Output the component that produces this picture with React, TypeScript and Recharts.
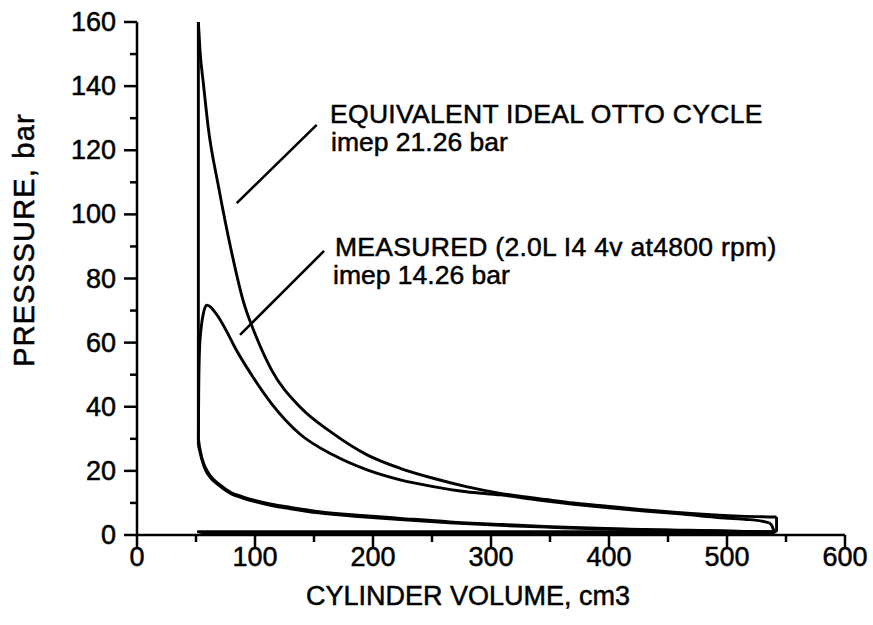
import { LineChart, Line, XAxis, YAxis, ReferenceLine } from 'recharts'

// ideal Otto cycle (cm3 / bar)
const ottoCompVolume = [52, 53, 55, 58, 62, 69, 80, 89, 100, 114, 130, 154, 190, 223, 265, 308, 350, 390, 418, 450, 500, 542]
const ottoCompPressure = [28, 26.5, 23.5, 20.3, 18.0, 15.6, 12.8, 11.6, 10.4, 9.2, 8.2, 6.9, 5.7, 4.8, 3.8, 3.0, 2.4, 1.9, 1.7, 1.5, 1.2, 1.0]
const ottoExpVolume = [52, 53.4, 56.2, 60.4, 68.9, 80.3, 90, 101.4, 114, 138, 166, 195, 223, 251, 279, 308, 350, 370, 398, 426, 455, 483, 511, 542]
const ottoExpPressure = [160, 151, 141, 127, 109, 88, 73, 61.5, 51.5, 40, 31.7, 25, 20.8, 17.7, 15.1, 13.0, 10.9, 10.0, 9.0, 8.0, 7.1, 6.4, 5.9, 5.6]
const ottoTdcVolume = [52, 52]
const ottoTdcPressure = [28, 160]
const ottoBdcVolume = [542, 542]
const ottoBdcPressure = [5.6, 1.0]

// measured loop, 2.0L I4 4v at 4800 rpm
const measCompVolume = [52, 53, 55, 58, 62, 69, 80, 89, 100, 114, 130, 154, 190, 223, 265, 308, 350, 390, 418, 450, 500, 540]
const measCompPressure = [30, 27.5, 24.0, 21.0, 18.5, 16.0, 13.2, 12.0, 10.8, 9.6, 8.6, 7.3, 6.1, 5.2, 4.1, 3.3, 2.6, 2.1, 1.8, 1.6, 1.3, 0.7]
const measExpVolume = [52, 52.3, 53, 54.5, 56.5, 59, 62, 65, 69, 76, 83, 97, 114, 138, 166, 195, 223, 251, 279, 308, 340, 370, 400, 430, 460, 490, 515, 530, 536]
const measExpPressure = [30, 45, 58, 65, 69.5, 71.7, 71.2, 70, 68, 63.5, 58.5, 50, 41, 31.5, 25, 20.3, 17.2, 15.1, 13.5, 12.5, 10.9, 9.6, 8.5, 7.5, 6.6, 5.5, 4.9, 4.3, 3.8]
const measGasVolume = [536, 538, 540, 450, 300, 150, 60, 52, 60, 150, 300, 450, 540]
const measGasPressure = [3.8, 3.0, 1.0, 1.0, 1.0, 1.0, 1.0, 1.0, 0.45, 0.45, 0.45, 0.55, 0.7]

const volumeTicks = [0, 50, 100, 150, 200, 250, 300, 350, 400, 450, 500, 550, 600]
const pressureTicks = [0, 10, 20, 30, 40, 50, 60, 70, 80, 90, 100, 110, 120, 130, 140, 150, 160]

// leader lines from the labels to the curves
const ottoPointer = [{ v: 84.5, p: 103.5 }, { v: 152.3, p: 127.9 }]
const measuredPointer = [{ v: 87.3, p: 62.4 }, { v: 158.5, p: 88.6 }]

const pts = (vs: number[], ps: number[]) => vs.map((v, i) => ({ v, p: ps[i] }))

const segments = [
  { data: pts(ottoCompVolume, ottoCompPressure), curve: 'monotone' },
  { data: pts(ottoTdcVolume, ottoTdcPressure), curve: 'linear' },
  { data: pts(ottoExpVolume, ottoExpPressure), curve: 'monotone' },
  { data: pts(ottoBdcVolume, ottoBdcPressure), curve: 'linear' },
  { data: pts(measCompVolume, measCompPressure), curve: 'monotone' },
  { data: pts(measExpVolume, measExpPressure), curve: 'monotone' },
  { data: pts(measGasVolume, measGasPressure), curve: 'linear' },
]

const font = '"Liberation Sans", Arial, Helvetica, sans-serif'
const ink = '#000'

function XTick(props: any) {
  const { x, y, payload } = props
  const major = payload.value % 100 === 0
  return (
    <g>
      <line x1={x} x2={x} y1={y} y2={y + (major ? 12 : 7)} stroke={ink} strokeWidth={2.5} />
      {major && (
        <text x={x} y={y + 31} textAnchor="middle" fontFamily={font} fontSize={27} fill={ink} stroke={ink} strokeWidth={0.5}>
          {payload.value}
        </text>
      )}
    </g>
  )
}

function YTick(props: any) {
  const { x, y, payload } = props
  const major = payload.value % 20 === 0
  return (
    <g>
      <line x1={x - (major ? 13 : 7)} x2={x} y1={y} y2={y} stroke={ink} strokeWidth={2.5} />
      {major && (
        <text x={x - 21} y={y + 9} textAnchor="end" fontFamily={font} fontSize={27} fill={ink} stroke={ink} strokeWidth={0.5}>
          {payload.value}
        </text>
      )}
    </g>
  )
}

export default function App() {
  return (
    <div style={{ position: 'absolute', left: 0, top: 0, width: 873, height: 625, background: '#fff' }}>
      <LineChart width={873} height={625} margin={{ top: 22, right: 28, bottom: 89, left: 136 }}>
        <XAxis
          type="number"
          dataKey="v"
          domain={[0, 600]}
          ticks={volumeTicks}
          interval={0}
          height={1}
          tickSize={0}
          tickMargin={0}
          tick={<XTick />}
          axisLine={{ stroke: ink, strokeWidth: 2.5 }}
          allowDataOverflow
        />
        <YAxis
          type="number"
          dataKey="p"
          domain={[0, 160]}
          ticks={pressureTicks}
          interval={0}
          width={1}
          tickSize={0}
          tickMargin={0}
          tick={<YTick />}
          axisLine={{ stroke: ink, strokeWidth: 2.5 }}
          allowDataOverflow
        />
        <ReferenceLine segment={ottoPointer.map(d => ({ x: d.v, y: d.p }))} stroke={ink} strokeWidth={2.6} ifOverflow="visible" />
        <ReferenceLine segment={measuredPointer.map(d => ({ x: d.v, y: d.p }))} stroke={ink} strokeWidth={2.6} ifOverflow="visible" />
        {segments.map((s, i) => (
          <Line
            key={i}
            data={s.data}
            dataKey="p"
            type={s.curve as any}
            stroke={ink}
            strokeWidth={2.9}
            strokeLinejoin="round"
            dot={false}
            activeDot={false}
            isAnimationActive={false}
          />
        ))}
      </LineChart>
      <svg width={873} height={625} style={{ position: 'absolute', left: 0, top: 0, pointerEvents: 'none' }}>
        <g fontFamily={font} fill={ink} stroke={ink} strokeWidth={0.5}>
          <text x={330} y={123} fontSize={26.5} letterSpacing={0.3}>EQUIVALENT IDEAL OTTO CYCLE</text>
          <text x={331} y={151} fontSize={26.5}>imep 21.26 bar</text>
          <text x={335} y={256} fontSize={26.5} letterSpacing={0.3}>MEASURED (2.0L I4 4v at4800 rpm)</text>
          <text x={333} y={284} fontSize={26.5}>imep 14.26 bar</text>
          <text x={468} y={605} fontSize={27} textAnchor="middle">CYLINDER VOLUME, cm3</text>
          <text x={0} y={0} fontSize={29} letterSpacing={1.2} textAnchor="middle" transform="translate(34 240) rotate(-90)">PRESSSURE, bar</text>
        </g>
      </svg>
    </div>
  )
}
